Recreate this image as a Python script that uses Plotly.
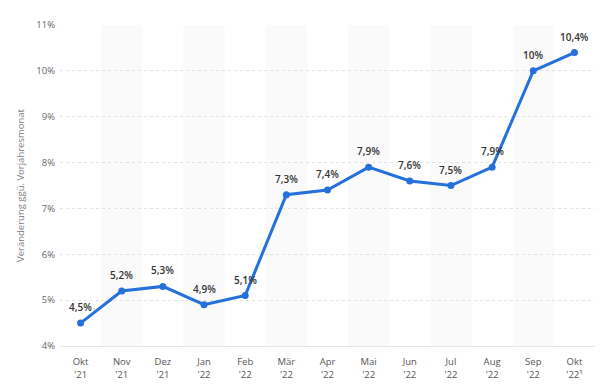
import plotly.graph_objects as go

months = ["Okt", "Nov", "Dez", "Jan", "Feb", "Mär", "Apr", "Mai", "Jun", "Jul", "Aug", "Sep", "Okt"]
years = ["'21", "'21", "'21", "'22", "'22", "'22", "'22", "'22", "'22", "'22", "'22", "'22", "'22¹"]
values = [4.5, 5.2, 5.3, 4.9, 5.1, 7.3, 7.4, 7.9, 7.6, 7.5, 7.9, 10.0, 10.4]
y_ticks = [4, 5, 6, 7, 8, 9, 10, 11]

x = list(range(len(values)))
labels = [f"{v:g}".replace(".", ",") + "%" for v in values]
ticktext = [f"{m}<br>{y}" for m, y in zip(months, years)]

fig = go.Figure()
fig.add_trace(go.Scatter(
    x=x, y=values, mode="lines+markers",
    line=dict(color="#2470dc", width=3),
    marker=dict(color="#2470dc", size=7),
    cliponaxis=False, hoverinfo="skip",
))

annotations = [
    dict(x=xi, y=v, text=t, showarrow=False, yshift=16, xref="x", yref="y",
         font=dict(family="Open Sans", size=10, color="#333333", weight=600))
    for xi, v, t in zip(x, values, labels)
]

shapes = []
for i in x:
    if i % 2 == 1:
        shapes.append(dict(type="rect", xref="x", yref="y", x0=i - 0.5, x1=i + 0.5,
                           y0=4, y1=11, fillcolor="#fafafa", line=dict(width=0), layer="below"))
fig.update_layout(
    width=605, height=386,
    margin=dict(l=52, r=18, t=17, b=48, autoexpand=False),
    paper_bgcolor="white", plot_bgcolor="white",
    showlegend=False, shapes=shapes, annotations=annotations,
    font=dict(family="Open Sans", size=9.5, color="#666666"),
)
fig.update_xaxes(
    range=[-0.5, 12.5], tickvals=x, ticktext=ticktext, showgrid=False,
    showline=True, linecolor="#e6e6e6", linewidth=1, ticks="", zeroline=False,
    ticklabelstandoff=7,
    tickfont=dict(size=9.5, color="#555555"),
)
fig.update_yaxes(
    range=[4, 11], tickvals=y_ticks, ticktext=[f"{t}%" for t in y_ticks],
    showgrid=True, gridcolor="#e2e2e2", griddash="dot", gridwidth=1,
    zeroline=False, ticks="", ticklabelstandoff=4,
    title=dict(text="Veränderung ggü. Vorjahresmonat", font=dict(size=9.5, color="#808080"), standoff=9),
    tickfont=dict(size=9.5, color="#666666"),
)
fig.write_html("out.html")
